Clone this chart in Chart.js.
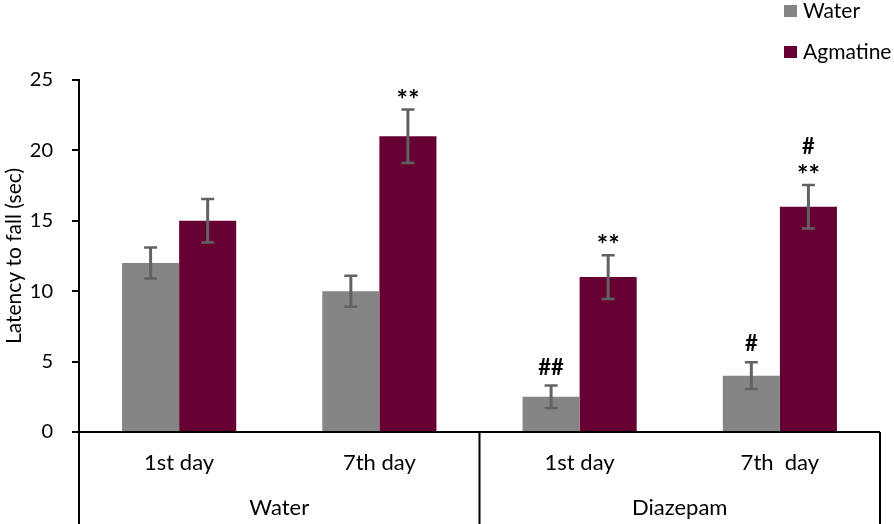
<!DOCTYPE html>
<html>
<head>
<meta charset="utf-8">
<script src="https://cdn.jsdelivr.net/npm/chart.js@4.4.0/dist/chart.umd.min.js"></script>
<style>
  body { margin: 0; background: #fff; }
</style>
</head>
<body>
<canvas id="chartLatencia" width="894" height="524"></canvas>
<script>
// datos
const dias = ["1st day", "7th day", "1st day", "7th  day"];
const grupos = ["Water", "Diazepam"];
const aguaValores = [12, 10, 2.5, 4];
const aguaError = [1.1, 1.1, 0.8, 0.95];
const agmValores = [15, 21, 11, 16];
const agmError = [1.55, 1.9, 1.55, 1.55];
const aguaMarcas = [[], [], ["##"], ["#"]];
const agmMarcas = [[], ["**"], ["**"], ["#", "**"]];
const yTicks = [0, 5, 10, 15, 20, 25];

const FUENTE = "Lato, 'Open Sans', sans-serif";

// barras de error + marcas de significancia
const barrasError = {
  id: "barrasError",
  afterDatasetsDraw(chart) {
    const { ctx, scales } = chart;
    const y = scales.y;
    ctx.save();
    chart.data.datasets.forEach((ds, i) => {
      const meta = chart.getDatasetMeta(i);
      meta.data.forEach((bar, j) => {
        const v = ds.data[j];
        const e = ds.errores[j];
        const yTop = y.getPixelForValue(v + e);
        const yBot = y.getPixelForValue(v - e);
        ctx.strokeStyle = "#626262";
        ctx.lineWidth = 3;
        ctx.beginPath();
        ctx.moveTo(bar.x, yTop);
        ctx.lineTo(bar.x, yBot);
        ctx.stroke();
        ctx.lineWidth = 2.5;
        ctx.beginPath();
        ctx.moveTo(bar.x - 6.5, yTop);
        ctx.lineTo(bar.x + 6.5, yTop);
        ctx.moveTo(bar.x - 6.5, yBot);
        ctx.lineTo(bar.x + 6.5, yBot);
        ctx.stroke();

        // se apilan de abajo hacia arriba
        ctx.fillStyle = "#000";
        ctx.textAlign = "center";
        ctx.textBaseline = "alphabetic";
        let base = yTop - 11;
        ds.marcas[j].slice().reverse().forEach((m) => {
          ctx.font = m.includes("*") ? "bold 27px " + FUENTE : "bold 22px " + FUENTE;
          const med = ctx.measureText(m);
          const baseline = base - med.actualBoundingBoxDescent;
          ctx.fillText(m, bar.x, baseline);
          base = baseline - med.actualBoundingBoxAscent - 10;
        });
      });
    });
    ctx.restore();
  },
};

// eje x de dos niveles y leyenda
const ejeInferior = {
  id: "ejeInferior",
  afterDraw(chart) {
    const { ctx, chartArea, scales } = chart;
    const x = scales.x;
    const y0 = chartArea.bottom;
    const fondo = chart.height;
    ctx.save();
    ctx.strokeStyle = "#000";
    ctx.lineWidth = 2;
    ctx.beginPath();
    ctx.moveTo(chartArea.left - 7, y0);
    ctx.lineTo(chartArea.right, y0);
    const mitad = (x.getPixelForValue(1) + x.getPixelForValue(2)) / 2;
    [chartArea.left, mitad, chartArea.right].forEach((px) => {
      ctx.moveTo(px, y0);
      ctx.lineTo(px, fondo);
    });
    ctx.stroke();

    ctx.fillStyle = "#000";
    ctx.textAlign = "center";
    ctx.textBaseline = "middle";
    ctx.font = "22px " + FUENTE;
    dias.forEach((d, i) => {
      ctx.fillText(d, x.getPixelForValue(i), y0 + 31);
    });
    const bordes = [chartArea.left, mitad, chartArea.right];
    grupos.forEach((g, i) => {
      ctx.fillText(g, (bordes[i] + bordes[i + 1]) / 2, y0 + 76);
    });

    // leyenda
    ctx.textAlign = "left";
    ctx.font = "21px " + FUENTE;
    chart.data.datasets.forEach((ds, i) => {
      const cy = 11 + i * 41;
      ctx.fillStyle = ds.backgroundColor;
      ctx.fillRect(784, cy - 6, 13, 12);
      ctx.fillStyle = "#000";
      ctx.fillText(ds.label, 803, cy);
    });
    ctx.restore();
  },
};

new Chart(document.getElementById("chartLatencia"), {
  type: "bar",
  data: {
    labels: dias,
    datasets: [
      {
        label: "Water",
        data: aguaValores,
        errores: aguaError,
        marcas: aguaMarcas,
        backgroundColor: "#858585",
        borderWidth: 0,
      },
      {
        label: "Agmatine",
        data: agmValores,
        errores: agmError,
        marcas: agmMarcas,
        backgroundColor: "#660033",
        borderWidth: 0,
      },
    ],
  },
  options: {
    responsive: false,
    animation: false,
    layout: { padding: { top: 80, bottom: 92, right: 14, left: 0 } },
    datasets: { bar: { categoryPercentage: 0.57, barPercentage: 1.0 } },
    plugins: { legend: { display: false }, tooltip: { enabled: false } },
    scales: {
      x: { display: false },
      y: {
        min: 0,
        max: 25,
        afterBuildTicks: (s) => {
          s.ticks = yTicks.map((v) => ({ value: v }));
        },
        afterFit: (s) => {
          s.width = 79;
        },
        ticks: { color: "#000", font: { family: FUENTE, size: 20 }, padding: 19 },
        grid: { drawOnChartArea: false, tickLength: 7, color: "#000", lineWidth: 2 },
        border: { color: "#000", width: 2 },
        title: {
          display: true,
          text: "Latency to fall (sec)",
          color: "#000",
          font: { family: FUENTE, size: 21 },
          padding: { top: 2, bottom: 0 },
        },
      },
    },
  },
  plugins: [barrasError, ejeInferior],
});
</script>
</body>
</html>
